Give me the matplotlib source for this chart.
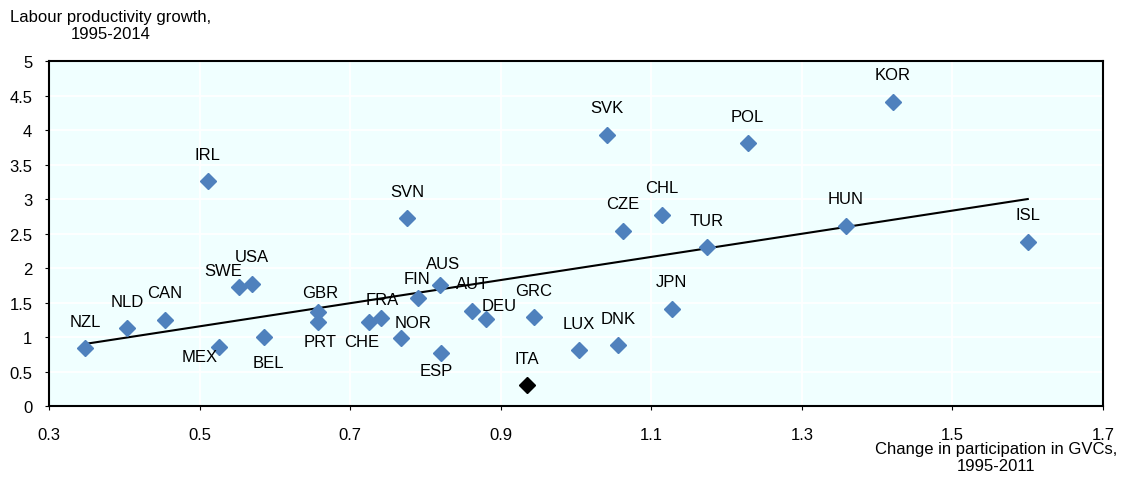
import matplotlib
matplotlib.use('Agg')
import matplotlib.pyplot as plt

# data
countries = ['NZL', 'NLD', 'CAN', 'MEX', 'BEL', 'SWE', 'USA', 'IRL', 'GBR', 'PRT',
             'CHE', 'FRA', 'NOR', 'FIN', 'SVN', 'AUS', 'ESP', 'AUT', 'DEU', 'GRC',
             'ITA', 'LUX', 'DNK', 'SVK', 'CZE', 'CHL', 'JPN', 'TUR', 'POL', 'HUN',
             'KOR', 'ISL']
gvc_change = [0.348, 0.404, 0.454, 0.526, 0.585, 0.552, 0.570, 0.511, 0.657, 0.657,
              0.725, 0.741, 0.768, 0.790, 0.776, 0.819, 0.820, 0.862, 0.880, 0.944,
              0.935, 1.004, 1.056, 1.041, 1.062, 1.114, 1.127, 1.174, 1.228, 1.358,
              1.421, 1.600]
prod_growth = [0.84, 1.13, 1.25, 0.855, 1.00, 1.72, 1.77, 3.26, 1.36, 1.22,
               1.22, 1.28, 0.99, 1.57, 2.72, 1.75, 0.77, 1.38, 1.26, 1.29,
               0.30, 0.81, 0.88, 3.93, 2.54, 2.77, 1.41, 2.30, 3.81, 2.61,
               4.41, 2.38]
highlight = 'ITA'

# trend line ends as drawn
trend_x = [0.348, 1.600]
trend_y = [0.90, 3.00]

x_ticks = [0.3, 0.5, 0.7, 0.9, 1.1, 1.3, 1.5, 1.7]
y_ticks = [0, 0.5, 1, 1.5, 2, 2.5, 3, 3.5, 4, 4.5, 5]

# label offsets in pixels (dx right, dy down); default is straight above
label_offsets = {
    'MEX': (-19, 9), 'BEL': (5, 25), 'SWE': (-16, -17), 'GBR': (2, -20),
    'PRT': (2, 20), 'CHE': (-7, 20), 'FRA': (1, -18), 'NOR': (12, -15),
    'FIN': (-1, -19), 'AUS': (3, -22), 'ESP': (-4, 18), 'DEU': (14, -14),
}
DEFAULT_OFFSET = (0, -27)

BLUE = '#4F81BD'
BG = '#F0FFFF'
FS = 12

plt.rcParams['font.family'] = ['Liberation Sans', 'DejaVu Sans']

fig = plt.figure(figsize=(11.21, 4.81), dpi=100)
ax = fig.add_axes([0.0437, 0.1538, 0.9403, 0.7172])
ax.set_facecolor(BG)

ax.plot(trend_x, trend_y, color='black', linewidth=1.5, zorder=2)

for c, gx, gy in zip(countries, gvc_change, prod_growth):
    col = 'black' if c == highlight else BLUE
    ax.plot(gx, gy, marker='D', markersize=8, color=col, linestyle='none', zorder=3)
    dx, dy = label_offsets.get(c, DEFAULT_OFFSET)
    ax.annotate(c, (gx, gy), xytext=(dx * 0.72, -dy * 0.72), textcoords='offset points',
                ha='center', va='center', fontsize=FS, zorder=4)

ax.set_xlim(0.3, 1.7)
ax.set_ylim(0, 5)
ax.set_xticks(x_ticks)
ax.set_xticklabels([f'{t:g}' for t in x_ticks])
ax.set_yticks(y_ticks)
ax.set_yticklabels([f'{t:g}' for t in y_ticks])
ax.tick_params(axis='x', length=3, pad=12, labelsize=FS)
ax.tick_params(axis='y', length=3, pad=9, labelsize=FS)
ax.grid(True, color='white', linewidth=1.3)
ax.set_axisbelow(True)
for s in ax.spines.values():
    s.set_color('black')
    s.set_linewidth(1.5)

fig.text(10 / 1121, 1 - 10 / 481, 'Labour productivity growth,\n1995-2014',
         ha='left', va='top', multialignment='center', fontsize=FS)
fig.text(1117 / 1121, 1 - 442 / 481, 'Change in participation in GVCs,\n1995-2011',
         ha='right', va='top', multialignment='center', fontsize=FS)

fig.savefig('out.png', dpi=100, facecolor='white')
